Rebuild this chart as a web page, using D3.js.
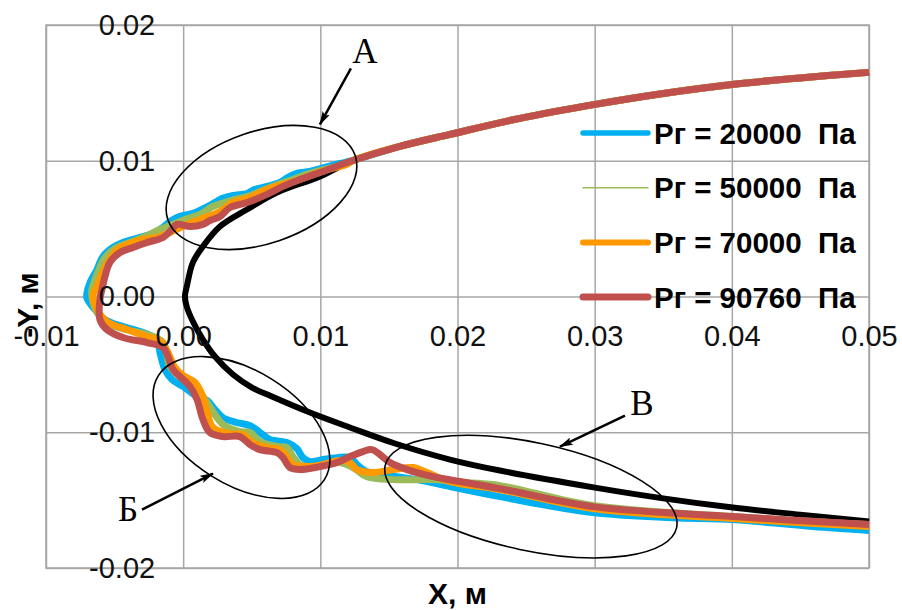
<!DOCTYPE html>
<html>
<head>
<meta charset="utf-8">
<script src="https://cdn.jsdelivr.net/npm/d3@7"></script>
<style>
  html, body { margin: 0; padding: 0; background: #fff; }
  svg { display: block; font-family: Arial, "Liberation Sans", sans-serif; }
</style>
</head>
<body>
<svg id="chart" width="902" height="610"></svg>
<script>
// ---- Data (metres) ----
const xTicks = [-0.01, 0, 0.01, 0.02, 0.03, 0.04, 0.05];
const yTicks = [-0.02, -0.01, 0, 0.01, 0.02];

const seriesNames = ["Рг = 20000  Па", "Рг = 50000  Па", "Рг = 70000  Па", "Рг = 90760  Па"];

// Upper branch shared by every pressure, from x = 0.05 back to the junction
const sharedUpper = [
  [0.05, 0.01651], [0.04497, 0.0161], [0.04001, 0.01562], [0.03476, 0.01492],
  [0.03002, 0.01415], [0.02455, 0.01312], [0.01945, 0.01194], [0.0158, 0.01106],
  [0.01238, 0.01002]
];

// Reference (black) contour: upper part to the vertex, then lower part
const theoryUpper = [
  [0.00997, 0.00884], [0.00684, 0.00766], [0.00465, 0.00641], [0.00268, 0.00516],
  [0.00144, 0.00369], [0.00071, 0.00251], [0.00028, 0.00081], [0.00013, 0]
];
const theoryLower = [
  [0.00028, -0.00081], [0.00071, -0.00184], [0.00144, -0.00317], [0.00232, -0.00442],
  [0.00363, -0.00575], [0.00502, -0.00671], [0.00647, -0.00737], [0.00924, -0.00855],
  [0.01216, -0.00965], [0.01544, -0.01083], [0.01945, -0.01201], [0.02309, -0.01282],
  [0.03002, -0.01408], [0.03512, -0.01489], [0.04008, -0.01555], [0.04497, -0.01607],
  [0.05, -0.01658]
];

// Рг = 20000 Па
const p20000 = [
  [0.01143, 0.0098], [0.01034, 0.00951], [0.00924, 0.00921], [0.00829, 0.00907],
  [0.00764, 0.00877], [0.00706, 0.0084], [0.00611, 0.00811], [0.00523, 0.00789],
  [0.00465, 0.00759], [0.00363, 0.00744], [0.00283, 0.00722], [0.00195, 0.00671],
  [0.00122, 0.00634], [0.00071, 0.00612], [-0.00023, 0.0059], [-0.00096, 0.00553],
  [-0.00147, 0.00509], [-0.0022, 0.00464], [-0.00315, 0.00435], [-0.00439, 0.00398],
  [-0.00512, 0.00361], [-0.00585, 0.00295], [-0.00628, 0.00199], [-0.00679, 0.00103],
  [-0.00701, 0.00029], [-0.00701, -0.00015],
  [-0.00643, -0.00096], [-0.0057, -0.0017], [-0.00439, -0.00221], [-0.00293, -0.00265],
  [-0.00191, -0.00317], [-0.00169, -0.00413], [-0.00133, -0.00538], [-0.00082, -0.00612],
  [0, -0.00663], [0.00101, -0.00737], [0.00174, -0.00766], [0.00232, -0.00833],
  [0.0029, -0.00892], [0.00392, -0.00929], [0.00487, -0.00951], [0.0056, -0.01002],
  [0.00633, -0.01054], [0.00757, -0.01076], [0.00829, -0.0112], [0.00873, -0.01187],
  [0.00924, -0.01216], [0.01019, -0.01201], [0.01121, -0.01187], [0.01216, -0.01187],
  [0.01267, -0.01238], [0.0134, -0.0129], [0.01457, -0.01312], [0.01705, -0.01349],
  [0.01945, -0.014], [0.02309, -0.01474], [0.02987, -0.01592], [0.03571, -0.01629],
  [0.04008, -0.01643], [0.04591, -0.01695], [0.05, -0.01724]
];

// Рг = 50000 Па
const p50000 = [
  [0.01143, 0.00965], [0.01034, 0.00936], [0.00924, 0.00907], [0.00778, 0.00855],
  [0.00633, 0.00803], [0.00487, 0.00744], [0.00378, 0.00715], [0.00305, 0.00693],
  [0.00217, 0.00663], [0.00122, 0.00604], [0.00013, 0.00567], [-0.00096, 0.00523],
  [-0.00169, 0.00494], [-0.00278, 0.00442], [-0.00388, 0.00398], [-0.00497, 0.00354],
  [-0.0057, 0.00287], [-0.00628, 0.00162], [-0.00665, 0.00052], [-0.00665, 0],
  [-0.00628, -0.00118], [-0.00556, -0.00192], [-0.00424, -0.00243], [-0.00264, -0.0028],
  [-0.00147, -0.00339], [-0.00096, -0.00516], [-0.00023, -0.0059], [0.00144, -0.00737],
  [0.00217, -0.00848], [0.0029, -0.00943], [0.00414, -0.00995], [0.00487, -0.01002],
  [0.0056, -0.01069], [0.00684, -0.01105], [0.00757, -0.01113], [0.008, -0.01179],
  [0.00851, -0.01238], [0.00946, -0.01253], [0.01048, -0.01238], [0.01143, -0.01223],
  [0.01238, -0.0126], [0.0134, -0.01327], [0.0153, -0.01349], [0.01822, -0.01349],
  [0.02069, -0.01371], [0.02309, -0.01393], [0.02987, -0.0154], [0.04008, -0.01621],
  [0.05, -0.0168]
];

// Рг = 70000 Па
const p70000 = [
  [0.01194, 0.00973], [0.01034, 0.00929], [0.00851, 0.00862], [0.00728, 0.00825],
  [0.00611, 0.00789], [0.00487, 0.0073], [0.00363, 0.00693], [0.00268, 0.00626],
  [0.00144, 0.00575], [0.00028, 0.00531], [-0.00096, 0.00472], [-0.00191, 0.00435],
  [-0.00293, 0.0042], [-0.0041, 0.00383], [-0.00483, 0.00346], [-0.00534, 0.00273],
  [-0.00585, 0.00177], [-0.00628, 0.00074], [-0.00658, 0],
  [-0.00628, -0.00096], [-0.00556, -0.00184], [-0.0041, -0.00243], [-0.00264, -0.00295],
  [-0.00169, -0.00324], [-0.00118, -0.00398], [-0.0006, -0.00523], [0, -0.00582],
  [0.00086, -0.00634], [0.00137, -0.00722], [0.00174, -0.00848], [0.00217, -0.00965],
  [0.00341, -0.0101], [0.00436, -0.01017], [0.00509, -0.01076], [0.00611, -0.01113],
  [0.00706, -0.01128], [0.00757, -0.01179], [0.008, -0.01238], [0.00903, -0.01253],
  [0.01019, -0.01238], [0.01143, -0.01209], [0.01216, -0.01223], [0.01267, -0.01275],
  [0.01384, -0.01297], [0.0153, -0.01275], [0.01676, -0.0126], [0.01778, -0.01297],
  [0.01945, -0.01363], [0.02309, -0.01422], [0.02987, -0.01562], [0.04008, -0.01636],
  [0.05, -0.01695]
];

// Рг = 90760 Па
const p90760 = [
  [0.00997, 0.00914], [0.00851, 0.00862], [0.00728, 0.00811], [0.00611, 0.00752],
  [0.00487, 0.007], [0.00414, 0.00678], [0.00341, 0.00656], [0.00268, 0.0059],
  [0.00195, 0.0056], [0.00144, 0.00531], [0.0005, 0.00516], [-0.00045, 0.00531],
  [-0.00096, 0.00479], [-0.00147, 0.00435], [-0.00264, 0.00398], [-0.00366, 0.00361],
  [-0.00461, 0.00324], [-0.00534, 0.00251], [-0.0057, 0.00147], [-0.00592, 0.00052],
  [-0.00607, -0.00022],
  [-0.00607, -0.0017], [-0.00556, -0.00243], [-0.00439, -0.00302], [-0.00264, -0.00339],
  [-0.00147, -0.00376], [-0.00111, -0.00442], [-0.00074, -0.00538], [0, -0.00612],
  [0.0005, -0.00663], [0.00101, -0.00759], [0.00144, -0.00906], [0.00195, -0.01002],
  [0.0029, -0.01032], [0.00414, -0.01032], [0.00487, -0.01091], [0.0056, -0.01128],
  [0.00684, -0.0115], [0.00728, -0.01187], [0.00778, -0.0126], [0.00851, -0.01275],
  [0.00997, -0.01253], [0.01121, -0.01223], [0.01216, -0.01179], [0.01311, -0.01142],
  [0.01376, -0.01128], [0.01435, -0.01164], [0.01508, -0.01223], [0.01632, -0.01275],
  [0.01822, -0.01327], [0.02018, -0.01363], [0.02309, -0.01415], [0.02987, -0.01548],
  [0.04008, -0.01621], [0.05, -0.0168]
];

// Marked zones: centre of each ellipse, arrow tail/head and letter position (data units)
const zoneLabels = ["А", "Б", "В"];
const zoneCentres = [[0.00571, 0.00803], [0.00425, -0.00965], [0.02535, -0.01474]];
const arrowFrom = [[0.01223, 0.0168], [-0.003, -0.0157], [0.03221, -0.00877]];
const arrowTo = [[0.00997, 0.01268], [0.00217, -0.01304], [0.02747, -0.01106]];
const letterAt = [[0.01325, 0.01806], [-0.00402, -0.0157], [0.03345, -0.00789]];

// ---- Styling ----
const colors = ["#00b0f0", "#9bbb59", "#ff9900", "#c0504d"];
const legendWidths = [5.5, 1.5, 6, 7];
const ellipseShapes = [
  { rx: 99, ry: 56, rot: -19 },
  { rx: 98, ry: 57, rot: 32 },
  { rx: 149, ry: 54, rot: 12 }
];
const gridColor = "#a6a6a6";

const svg = d3.select("#chart");
const plot = { left: 46, right: 869, top: 25, bottom: 568 };

const x = d3.scaleLinear().domain([-0.01, 0.05]).range([plot.left, plot.right]);
const y = d3.scaleLinear().domain([-0.02, 0.02]).range([plot.bottom, plot.top]);
const fmt = d => d.toFixed(2);

svg.append("rect").attr("width", 902).attr("height", 610).attr("fill", "#fff");

// Gridlines
svg.append("g")
  .attr("transform", `translate(0,${plot.bottom})`)
  .call(d3.axisBottom(x).tickValues(xTicks).tickSize(-(plot.bottom - plot.top)).tickFormat(""))
  .call(g => g.select(".domain").remove())
  .call(g => g.selectAll("line").attr("stroke", gridColor).attr("stroke-width", 1.5));
svg.append("g")
  .attr("transform", `translate(${plot.left},0)`)
  .call(d3.axisLeft(y).tickValues(yTicks).tickSize(-(plot.right - plot.left)).tickFormat(""))
  .call(g => g.select(".domain").remove())
  .call(g => g.selectAll("line").attr("stroke", gridColor).attr("stroke-width", 1.5));
svg.append("rect")
  .attr("x", plot.left).attr("y", plot.top)
  .attr("width", plot.right - plot.left).attr("height", plot.bottom - plot.top)
  .attr("fill", "none").attr("stroke", gridColor).attr("stroke-width", 1.5);

// Curves
const line = d3.line()
  .x(d => x(d[0])).y(d => y(d[1]))
  .curve(d3.curveCatmullRom.alpha(0.5));

const theory = sharedUpper.concat(theoryUpper, theoryLower);
svg.append("path")
  .attr("d", line(theory))
  .attr("fill", "none").attr("stroke", "#000").attr("stroke-width", 6)
  .attr("stroke-linejoin", "round");

const series = [p20000, p50000, p70000, p90760];
series.forEach((pts, i) => {
  svg.append("path")
    .attr("d", line(sharedUpper.concat(pts)))
    .attr("fill", "none")
    .attr("stroke", colors[i])
    .attr("stroke-width", 7)
    .attr("stroke-linejoin", "round");
});

// Axis tick labels (axes cross at the origin)
svg.append("g")
  .attr("transform", `translate(0,${y(0)})`)
  .call(d3.axisBottom(x).tickValues(xTicks).tickSize(0).tickPadding(29).tickFormat(fmt))
  .call(g => g.select(".domain").remove())
  .call(g => g.attr("font-size", 29).attr("font-family", "Arial, 'Liberation Sans', sans-serif"))
  .call(g => g.selectAll("text").attr("fill", "#111"));
svg.append("g")
  .attr("transform", `translate(${x(0)},0)`)
  .call(d3.axisLeft(y).tickValues(yTicks).tickSize(0).tickPadding(28).tickFormat(fmt))
  .call(g => g.select(".domain").remove())
  .call(g => g.attr("font-size", 29).attr("font-family", "Arial, 'Liberation Sans', sans-serif"))
  .call(g => g.selectAll("text").attr("fill", "#111"));

// Axis titles
svg.append("text")
  .attr("x", (plot.left + plot.right) / 2).attr("y", 593)
  .attr("text-anchor", "middle").attr("dominant-baseline", "central")
  .attr("font-size", 30).attr("font-weight", "bold")
  .text("X, м");
svg.append("text")
  .attr("transform", `translate(27,305) rotate(-90)`)
  .attr("text-anchor", "middle").attr("dominant-baseline", "central")
  .attr("font-size", 30).attr("font-weight", "bold")
  .text("-Y, м");

// Legend
const legend = svg.append("g");
seriesNames.forEach((name, i) => {
  const ly = 133 + i * 54.7;
  legend.append("line")
    .attr("x1", 583).attr("x2", 648).attr("y1", ly).attr("y2", ly)
    .attr("stroke", colors[i]).attr("stroke-width", legendWidths[i])
    .attr("stroke-linecap", "round");
  legend.append("text")
    .attr("x", 654).attr("y", ly)
    .attr("dominant-baseline", "central")
    .attr("font-size", 29.5).attr("font-weight", "bold")
    .style("white-space", "pre")
    .text(name);
});

// Marked zones with arrows
const defs = svg.append("defs");
defs.append("marker")
  .attr("id", "arrowhead")
  .attr("viewBox", "0 0 14 8").attr("refX", 13).attr("refY", 4)
  .attr("markerWidth", 14).attr("markerHeight", 8)
  .attr("markerUnits", "userSpaceOnUse")
  .attr("orient", "auto")
  .append("path").attr("d", "M0,0 L14,4 L0,8 L3,4 Z").attr("fill", "#000");

zoneLabels.forEach((lab, i) => {
  const c = zoneCentres[i], e = ellipseShapes[i];
  svg.append("ellipse")
    .attr("transform", `translate(${x(c[0])},${y(c[1])}) rotate(${e.rot})`)
    .attr("rx", e.rx).attr("ry", e.ry)
    .attr("fill", "none").attr("stroke", "#000").attr("stroke-width", 1.6);
  svg.append("line")
    .attr("x1", x(arrowFrom[i][0])).attr("y1", y(arrowFrom[i][1]))
    .attr("x2", x(arrowTo[i][0])).attr("y2", y(arrowTo[i][1]))
    .attr("stroke", "#000").attr("stroke-width", 2.5)
    .attr("marker-end", "url(#arrowhead)");
  svg.append("text")
    .attr("x", x(letterAt[i][0])).attr("y", y(letterAt[i][1]))
    .attr("text-anchor", "middle").attr("dominant-baseline", "central")
    .attr("font-family", "'Liberation Serif', 'Times New Roman', serif")
    .attr("font-size", 35)
    .text(lab);
});
</script>
</body>
</html>
